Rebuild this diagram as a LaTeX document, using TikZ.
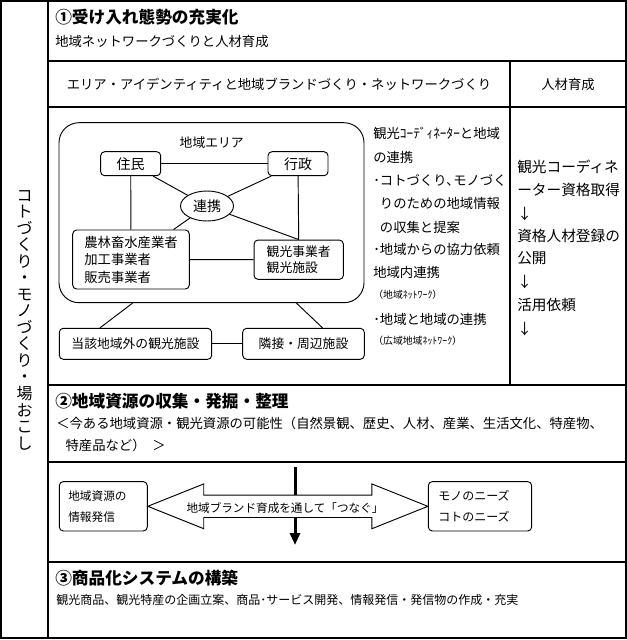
\documentclass[tikz,border=0pt]{standalone}
\usepackage{fontspec}
\setmainfont{Noto Sans CJK JP}
\usetikzlibrary{calc,arrows.meta,shapes.geometric}

\newcommand{\midashi}{\fontsize{12.5}{15}\selectfont\bfseries}
\newcommand{\honbun}{\fontsize{10}{12}\selectfont}
\newcommand{\komoji}{\fontsize{7.4}{9}\selectfont}

\begin{document}
\begin{tikzpicture}%
                    [x=0.75pt, y=-0.75pt,
                    frame/.style={line width=1pt},
                    rule/.style={line width=0.9pt},
                    link/.style={line width=0.7pt},
                    txt/.style={anchor=west, inner sep=0pt, font=\honbun},
                    head/.style={anchor=west, inner sep=0pt, font=\midashi},
                    col/.style={anchor=west, inner sep=0pt, font=\fontsize{11}{13}\selectfont},
                    box/.style={draw, link, rounded corners=3pt, inner sep=0pt, font=\honbun},
                    flow/.style={line width=2.25pt, -{Triangle[length=9pt,width=7.5pt]}},
                    arrowshape/.style={draw, link, fill=white, line join=miter}]
                \useasboundingbox (0,0) rectangle (627,640);
                %% Drawing the frame
                \draw[frame] (1,1) rectangle (626,638);
                \draw[frame] (48,1) -- (48,638);
                \draw[rule] (48,61) -- (626,61);
                \draw[rule] (48,107) -- (626,107);
                \draw[rule] (510,61) -- (510,385);
                \draw[rule] (48,385) -- (626,385);
                \draw[rule] (48,462) -- (626,462);
                \draw[rule] (48,562) -- (626,562);
                \node[font=\fontsize{12}{12.4}\selectfont, align=center, inner sep=0pt] (side) at (24.5,320)
                    {コ\\ト\\づ\\く\\り\\・\\モ\\ノ\\づ\\く\\り\\・\\場\\お\\こ\\し};
                %%
                %% Section 1
                %%
                \node[head] (s1) at (55,17) {①受け入れ態勢の充実化};
                \node[txt] (s1sub) at (55,41) {地域ネットワークづくりと人材育成};
                \node[font=\honbun] (colA) at (279,84) {エリア・アイデンティティと地域ブランドづくり・ネットワークづくり};
                \node[font=\honbun] (colB) at (568,84) {人材育成};

                %% The area and its members
                \node[draw, link, rounded corners=15pt, minimum width=228.75pt, minimum height=135pt] (area) at (211.5,212.7) {};
                \node[font=\fontsize{9.6}{12}\selectfont] (arealabel) at (211.7,142.3) {地域エリア};
                \node[box, minimum width=45pt, minimum height=18pt, font=\fontsize{10.5}{12}\selectfont] (jumin) at (130.7,163.7) {住民};
                \node[box, minimum width=45pt, minimum height=18pt, font=\fontsize{10.5}{12}\selectfont] (gyosei) at (298,163.7) {行政};
                \node[draw, link, ellipse, minimum width=39.75pt, minimum height=22.5pt, inner sep=0pt, font=\fontsize{10.5}{12}\selectfont] (renkei) at (207,206) {連携};
                \node[box, align=left, minimum width=87.5pt, minimum height=44.25pt, font=\fontsize{10}{13.1}\selectfont] (norin) at (131,259.5) {農林畜水産業者\\加工事業者\\販売事業者};
                \node[box, align=left, minimum width=67pt, minimum height=29.5pt, font=\fontsize{9.6}{12.5}\selectfont] (kanko) at (298.7,259.7) {観光事業者\\観光施設};
                \draw[link] (jumin) -- (gyosei);
                \draw[link] (jumin) -- (renkei);
                \draw[link] (gyosei) -- (renkei);
                \draw[link] (jumin) -- (norin);
                \draw[link] (gyosei) -- (kanko.north);
                \draw[link] (renkei) -- (norin);
                \draw[link] (renkei) -- (kanko.north);
                \draw[link] (norin) -- (kanko);

                %% Outside the area
                \node[box, minimum width=114.3pt, minimum height=23.25pt, font=\fontsize{9.6}{12}\selectfont] (gaibu) at (135.5,343.8) {当該地域外の観光施設};
                \node[box, minimum width=91.2pt, minimum height=23.25pt, font=\fontsize{9.6}{12}\selectfont] (rinsetsu) at (303.5,343.8) {隣接・周辺施設};
                \coordinate (outL) at ($(area.south)+(-79,0)$);
                \coordinate (outR) at ($(area.south)+(85,0)$);
                \draw[link] (outL) -- ($(gaibu.north)+(-35.5,0)$);
                \draw[link] (outR) -- ($(rinsetsu.north)+(19,0)$);
                \draw[link] (gaibu) -- (rinsetsu);

                %% Notes beside the area
                \node[txt] (c1) at (373,133) {観光ｺｰﾃﾞｨﾈｰﾀｰと地域};
                \node[txt] (c2) at (373,157) {の連携};
                \node[txt] (c3) at (373,180) {･コトづくり､モノづく};
                \node[txt] (c4) at (373,203) {\hspace{0.5em}りのための地域情報};
                \node[txt] (c5) at (373,227) {\hspace{0.5em}の収集と提案};
                \node[txt] (c6) at (373,249) {･地域からの協力依頼};
                \node[txt] (c7) at (373,272) {地域内連携};
                \node[txt, font=\komoji] (c8) at (373,295) {（地域ﾈｯﾄﾜｰｸ）};
                \node[txt] (c9) at (373,319) {･地域と地域の連携};
                \node[txt, font=\komoji] (c10) at (373,341) {（広域地域ﾈｯﾄﾜｰｸ）};

                %% Training column
                \node[col] (d1) at (517,167) {観光コーディネ};
                \node[col] (d2) at (517,190) {ーター資格取得};
                \node[col] (d3) at (517,214) {↓};
                \node[col] (d4) at (517,236) {資格人材登録の};
                \node[col] (d5) at (517,258) {公開};
                \node[col] (d6) at (517,282) {↓};
                \node[col] (d7) at (517,305) {活用依頼};
                \node[col] (d8) at (517,329) {↓};
                %%
                %% Section 2
                %%
                \node[head] (s2) at (55,401) {②地域資源の収集・発掘・整理};
                \node[txt] (s2a) at (56,423) {＜今ある地域資源・観光資源の可能性（自然景観、歴史、人材、産業、生活文化、特産物、};
                \node[txt] (s2b) at (56,445) {\hspace{0.7em}特産品など）\hspace{0.5em}＞};

                \coordinate (downtop) at (295,467);
                \coordinate (downend) at (295,545);
                \draw[flow] (downtop) -- (downend);
                \node[box, align=left, text width=52.5pt, inner xsep=6.75pt, minimum height=37pt, font=\fontsize{8.75}{15.5}\selectfont] (jouhou) at (103.3,506.3) {地域資源の\\情報発信};
                \node[box, align=left, text width=62.5pt, inner xsep=7.5pt, minimum height=37pt, font=\fontsize{9}{15.5}\selectfont] (needs) at (480,506.3) {モノのニーズ\\コトのニーズ};
                \draw[arrowshape] (jouhou.east) -- ++(56,-22.4) -- ++(0,11.2) -- ($(needs.west)+(-56,-11.2)$) -- ++(0,-11.2)
                    -- (needs.west) -- ++(-56,22.4) -- ++(0,-11.2) -- ($(jouhou.east)+(56,11.2)$) -- ++(0,11.2) -- cycle;
                \node[font=\fontsize{8.7}{10}\selectfont] (tsunagu) at (285,508) {地域ブランド育成を通して「つなぐ」};
                %%
                %% Section 3
                %%
                \node[head] (s3) at (55,578) {③商品化システムの構築};
                \node[txt, font=\fontsize{9}{11}\selectfont] (s3a) at (56,600) {観光商品、観光特産の企画立案、商品･サービス開発、情報発信・発信物の作成・充実};
                \end{tikzpicture}
\end{document}
